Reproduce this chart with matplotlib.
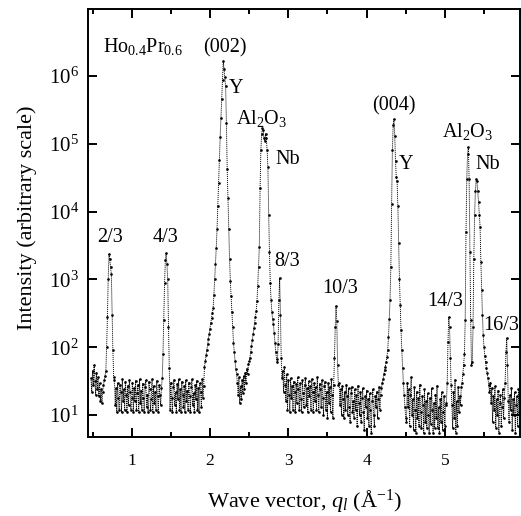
import numpy as np
import matplotlib
matplotlib.use("Agg")
import matplotlib.pyplot as plt
from matplotlib.ticker import MultipleLocator, NullLocator, LogLocator, LogFormatterMathtext

plt.rcParams['font.family'] = ['Liberation Serif', 'DejaVu Serif']
plt.rcParams['mathtext.fontset'] = 'custom'
plt.rcParams['mathtext.rm'] = 'Liberation Serif'
plt.rcParams['mathtext.it'] = 'Liberation Serif:italic'
plt.rcParams['mathtext.bf'] = 'Liberation Serif:bold'

STEP = 0.01  # scan step in q (1/A)

# intensities, one value per step, each segment starts at the given q
lead_in = [35, 22, 45, 28, 54, 32, 20, 42, 24, 36, 19, 30, 16, 24, 15, 22, 28, 33, 38]
peak_2_3 = [45, 100, 280, 1000, 2350, 2000, 1500, 1200, 300, 90, 36]
band_1 = [33, 14, 25, 11, 30, 18, 12, 28, 22, 11, 34, 16, 24, 12, 31, 20, 11, 27, 14, 33,
          22, 12, 18, 30, 11, 25, 16, 32, 12, 21, 28, 11, 34, 15, 23, 12, 29, 18, 11, 26,
          33, 13, 20, 11, 31, 24, 12, 17, 34, 11, 27, 15, 22, 12, 32, 19, 11, 28]
peak_4_3 = [20, 14, 25, 35, 80, 250, 900, 1900, 2450, 1700, 1000, 200, 50]
band_2 = [12, 30, 18, 11, 26, 33, 14, 22, 11, 29, 17, 34, 12, 24, 11, 31, 20, 13, 27, 11,
          33, 16, 23, 12, 30, 19, 11, 26, 34, 14, 21, 11, 28, 17, 32, 12, 25, 11, 30, 22,
          13, 34, 18, 27]
peak_002 = [52, 63, 76, 91, 110, 132, 155, 186, 224, 270, 316, 380, 590, 1000, 1700, 2900,
            5500, 1.2e4, 2.6e4, 5.8e4, 1.26e5, 2.4e5, 4.6e5, 8.7e5, 1.66e6, 1.26e6, 9.5e5,
            7e5, 2e5, 4.2e4, 1.6e4, 5600, 2000, 950, 560, 330, 200, 117, 85, 63, 48, 40]
dip = [30, 20, 36, 15, 27, 17, 33, 21, 38, 24, 42, 30, 48, 40, 56]
peak_al2o3_nb = [62, 70, 86, 105, 128, 155, 190, 230, 280, 340, 480, 800, 1500, 3000, 2.2e4,
                 8e4, 1.4e5, 1.7e5, 1.6e5, 1.2e5, 1.1e5, 1.4e5, 1.2e5, 8e4, 4.5e4, 9000, 2500,
                 900, 500, 330, 260, 220, 160, 115, 85, 68]
peak_8_3 = [60, 110, 500, 1050, 300, 70, 35]
band_3 = [45, 22, 52, 28, 16, 40, 12, 33, 20, 11, 35, 18, 27, 12, 31, 22, 11, 29, 15, 36,
          24, 12, 30, 17, 11, 33, 21, 13, 28, 35, 14, 25, 11, 32, 19, 27, 12, 34, 22, 11,
          30, 16, 26, 12, 36, 20, 11, 29, 24, 13, 33, 18, 10, 27, 31, 12, 22, 9, 30, 15,
          26, 11, 34, 20, 9, 28]
peak_10_3 = [70, 200, 410, 240, 55, 28]
band_4 = [30, 14, 24, 10, 27, 17, 9, 22, 12, 28, 19, 10, 25, 13, 8, 21, 26, 11, 16, 9,
          24, 12, 20, 7, 27, 15, 10, 22, 8, 18, 25, 11, 6, 19, 13, 23, 9, 17, 7, 21,
          12, 5.5, 16, 24, 10, 7, 19, 13, 22, 9, 17, 26, 12, 20, 25]
peak_004 = [30, 34, 40, 46, 52, 60, 72, 90, 140, 260, 500, 1500, 1.3e4, 8e4, 1.9e5, 2.3e5,
            1.3e5, 5.5e4, 3.2e4, 2.8e4, 1.2e4, 3500, 1000, 420, 180, 90, 50, 30, 20, 13, 9]
band_5 = [8, 30, 13, 24, 7, 20, 36, 10, 17, 6, 26, 12, 5.5, 22, 9, 18, 7, 28, 11, 6.5,
          19, 14, 5.5, 24, 8, 16, 6.5, 21, 10, 5.5, 18, 7.5, 25, 12, 5.5, 15, 6.5, 20, 9, 27,
          6.5, 13, 5.5, 17, 8, 22, 6, 11, 19, 7, 14]
peak_14_3 = [15, 30, 120, 280, 200, 70, 28, 14]
band_6 = [6.5, 22, 9, 33, 5.5, 16, 7, 26, 11, 19, 14]
peak_al2o3_nb_2 = [26, 30, 40, 55, 80, 250, 5000, 3e4, 7e4, 9e4, 3e4, 2500, 250, 55, 60, 200,
                   2000, 9000, 2e4, 3e4, 2.8e4, 2e4, 1.4e4, 9000, 6000, 1800, 700, 300, 150,
                   100, 75, 60, 50, 42, 35, 28]
band_7 = [22, 30, 15, 25, 8, 19, 12, 27, 6.5, 17, 10, 23, 5.5, 15, 20, 7, 13, 24, 9, 18]
peak_16_3 = [30, 85, 135, 55, 16]
band_8 = [8, 20, 12, 25, 6, 17, 10, 22, 5.5, 14, 19, 7, 24, 11, 16]

segments = [(0.48, lead_in), (0.67, peak_2_3), (0.78, band_1), (1.36, peak_4_3),
            (1.49, band_2), (1.93, peak_002), (2.35, dip), (2.50, peak_al2o3_nb),
            (2.86, peak_8_3), (2.93, band_3), (3.59, peak_10_3), (3.65, band_4),
            (4.20, peak_004), (4.51, band_5), (5.02, peak_14_3), (5.10, band_6),
            (5.21, peak_al2o3_nb_2), (5.57, band_7), (5.77, peak_16_3), (5.82, band_8)]

q = np.concatenate([start + STEP * np.arange(len(v)) for start, v in segments])
intensity = np.concatenate([np.asarray(v, dtype=float) for _, v in segments])

# peak labels: text, q, intensity of baseline
labels = [(r'Ho$_{0.4}$Pr$_{0.6}$', 0.634, 2.25e6, 'left'),
          ('(002)', 2.185, 2.25e6, 'center'),
          ('Y', 2.338, 5.6e5, 'center'),
          (r'Al$_2$O$_3$', 2.658, 1.97e5, 'center'),
          ('Nb', 2.99, 5.1e4, 'center'),
          ('(004)', 4.35, 3.05e5, 'center'),
          ('Y', 4.508, 4.3e4, 'center'),
          (r'Al$_2$O$_3$', 5.295, 1.26e5, 'center'),
          ('Nb', 5.55, 4.3e4, 'center'),
          ('2/3', 0.723, 3600, 'center'),
          ('4/3', 1.432, 3600, 'center'),
          ('8/3', 2.983, 1550, 'center'),
          ('10/3', 3.66, 620, 'center'),
          ('14/3', 5.0, 400, 'center'),
          ('16/3', 5.72, 178, 'center')]

fig = plt.figure(figsize=(5.21, 5.16), dpi=100)
ax = fig.add_axes([0.1695, 0.1537, 0.8286, 0.8289])

ax.plot(q, intensity, color='black', lw=0.65, ls=(0, (1.2, 1.0)),
        marker='o', ms=1.9, mew=0, mfc='black')

ax.set_yscale('log')
ax.set_xlim(0.446, 5.96)
ax.set_ylim(4.8, 9.7e6)

ax.xaxis.set_major_locator(MultipleLocator(1))
ax.xaxis.set_minor_locator(MultipleLocator(0.5))
ax.yaxis.set_major_locator(LogLocator(base=10, numticks=10))
ax.yaxis.set_major_formatter(LogFormatterMathtext())
ax.yaxis.set_minor_locator(NullLocator())

ax.tick_params(which='both', direction='in', top=True, right=True, width=1.4)
ax.tick_params(which='major', length=6.5)
ax.tick_params(which='minor', length=3.5)
ax.tick_params(axis='x', labelsize=12.5, pad=12)
ax.tick_params(axis='y', labelsize=15, pad=7)
for s in ax.spines.values():
    s.set_linewidth(1.4)

ax.set_xlabel(r'Wave vector, $q_l$ (Å$^{-1}$)', fontsize=16)
ax.set_ylabel('Intensity (arbitrary scale)', fontsize=16)
ax.xaxis.set_label_coords(0.5, -0.118)
ax.yaxis.set_label_coords(-0.119, 0.511)

for txt, xq, yi, ha in labels:
    ax.text(xq, yi, txt, fontsize=14.5, ha=ha, va='baseline')

fig.savefig('out.png', dpi=100)
